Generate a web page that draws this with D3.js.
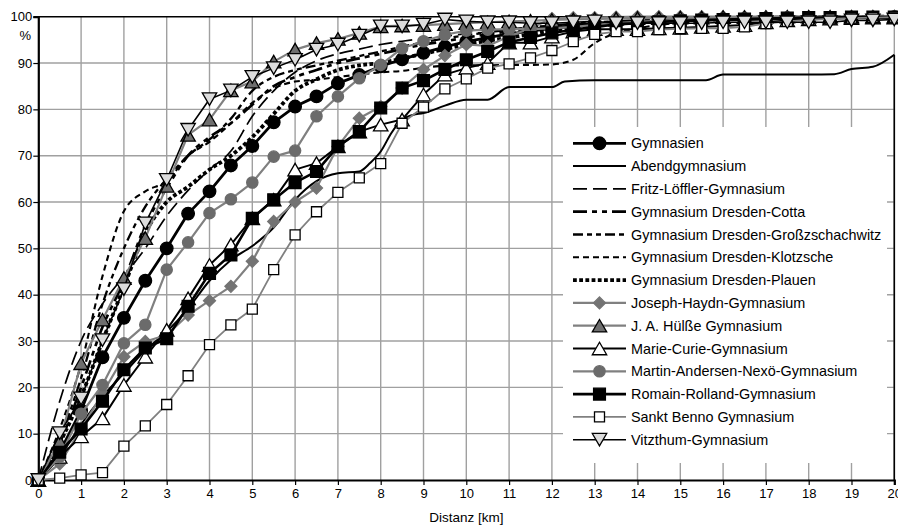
<!DOCTYPE html>
<html>
<head>
<meta charset="utf-8">
<script src="https://cdn.jsdelivr.net/npm/d3@7/dist/d3.min.js"></script>
<style>
  html, body { margin: 0; padding: 0; background: #fff; }
  svg { display: block; font-family: "Liberation Sans", Arial, sans-serif; }
</style>
</head>
<body>
<svg id="chart" width="898" height="527"></svg>
<script>
// Cumulative share of pupils (%) by travel distance (km)
const distances = [0,0.5,1,1.5,2,2.5,3,3.5,4,4.5,
  5,5.5,6,6.5,7,7.5,8,8.5,9,9.5,
  10,10.5,11,11.5,12,12.5,13,13.5,14,14.5,
  15,15.5,16,16.5,17,17.5,18,18.5,19,19.5,
  20];

const xTicks = [0,1,2,3,4,5,6,7,8,9,10,11,12,13,14,15,16,17,18,19,20];
const yTicks = [0,10,20,30,40,50,60,70,80,90,100];

const gymnasien = [0,6,15,26.5,35,43,50,57.5,62.3,67.9,
  72.1,77.2,80.6,82.8,85.6,87.4,89.3,90.8,92.2,93.5,
  94.6,95.5,96.3,96.9,97.5,97.9,98.3,98.6,98.8,99,
  99.1,99.2,99.3,99.4,99.5,99.6,99.6,99.7,99.8,99.8,
  99.9];

// Abendgymnasium is sampled more finely (smoothed line, no markers)
const abendKm = [0,0.5,1,1.5,2,2.5,3,3.5,4,4.5,5,5.5,6,6.5,7,7.5,7.75,8,8.25,8.5,8.75,9,9.5,10,10.5,11,11.25,12,12.3,13,14,15,15.6,16,17,18,18.6,19,19.5,20];
const abendPct = [0,5,12,18,23,28,32,37,43,47.5,50.5,54.5,60.5,64.5,66.2,66.6,68.4,70.9,74.9,77.8,78.8,79.2,80.8,82.1,82.1,84.8,84.8,84.8,86,86.3,86.3,86.3,86.3,87.5,87.5,87.5,87.6,88.7,89.2,91.8];

const fritzLoeffler = [0,17,30,38,44,50,57,62.5,67,71,
  78.5,84,88,90.5,92,93,94,94.7,95.3,95.8,
  96.3,96.7,97.2,97.5,97.8,98.1,98.4,98.6,98.8,99,
  99.1,99.2,99.3,99.4,99.5,99.6,99.7,99.7,99.8,99.8,
  99.8];

const cotta = [0,8,20,33,43,55,63,70,74,77,
  81,85,87,88.5,90,91,92,93,94,94.7,
  95.5,96.2,96.8,97.3,97.8,98.2,98.6,98.9,99.1,99.3,
  99.4,99.5,99.6,99.6,99.7,99.7,99.8,99.8,99.9,99.9,
  99.9];

const grosszschachwitz = [0,9,22,38,50,59,65,70,73.5,78,
  84,87,88.5,89.5,90.5,91.5,92.5,93.5,94.5,95.3,
  96,96.6,97.2,97.7,98.1,98.5,98.8,99,99.2,99.3,
  99.4,99.5,99.6,99.7,99.7,99.8,99.8,99.9,99.9,99.9,
  99.9];

const klotzsche = [0,11,25,44,58,62.3,64.5,70,73,77,
  81.4,84.5,86,86.4,87,87.5,88,88.3,89,89.4,
  89.5,89.5,89.6,89.6,89.7,90.7,94.3,96.5,97.5,98.2,
  98.7,99,99.3,99.5,99.6,99.7,99.8,99.8,99.9,99.9,
  99.9];

const plauen = [0,8,18,30,41.7,53.3,60,63.3,67,70,
  74,79,84,86.5,88.5,89.5,90,91,92,93,
  94,94.8,95.5,96.2,97,97.5,98,98.4,98.8,99.1,
  99.3,99.5,99.6,99.7,99.8,99.8,99.9,99.9,99.9,100,
  100];

const josephHaydn = [0,3.5,11,18.7,26.6,29.9,31.3,35.6,38.7,41.8,
  47.2,55.8,60,63,72,78.1,80.6,84.6,88.6,91.6,
  94,93.7,95.8,97.5,99.6,99.8,99.8,99.9,100,100,
  100,100,100,100,100,100,100,100,100,100,
  100];

const huelsse = [0,8.3,25.2,34.6,43.6,52.2,63.5,74.5,77.8,84.1,
  86,90.3,92.9,94.3,95.2,96.5,97.9,98.1,98.2,98.4,
  98.6,98.8,99,99.1,99.3,99.4,99.5,99.6,99.7,99.7,
  99.8,99.8,99.9,99.9,99.9,100,100,100,100,100,
  100];

const marieCurie = [0,5,9.4,13.3,20.5,26.6,32.4,39.2,46.4,50.8,
  56.5,60.5,67,68.4,72,75.2,76.7,77.8,83.2,87.5,
  88.9,90,94.4,94.4,95.7,96.8,97.3,97.3,97.3,97.5,
  97.6,97.8,98,98.2,98.8,99.2,99.4,99.6,99.7,99.8,
  99.8];

const martinAndersenNexoe = [0,5,14.3,20.5,29.5,33.5,45.4,51.3,57.6,60.6,
  64.2,69.8,71.1,78.5,82.8,86.7,89.6,93.2,94.7,96.1,
  97,97.2,97.3,97.3,97.5,97.8,98.2,98.6,98.9,99.1,
  99.3,99.4,99.5,99.6,99.7,99.8,99.8,99.9,99.9,100,
  100];

const romainRolland = [0,6,11,17,23.8,28.5,30.5,37.5,44.6,48.6,
  56.5,60.5,64.2,66.6,72,75.2,80.3,84.6,86.2,88.6,
  90.7,92.5,94.5,95.5,96.5,97.2,97.8,98.3,98.6,98.9,
  99.1,99.3,99.4,99.5,99.6,99.7,99.8,99.8,99.9,99.9,
  99.9];

const sanktBenno = [0,0.4,1.1,1.6,7.3,11.7,16.3,22.5,29.2,33.5,
  36.9,45.4,52.9,57.9,62.1,65.2,68.3,77,80.5,84.4,
  86.6,88.9,89.8,91.1,92.7,94.6,96.2,96.8,96.8,97.2,
  97.4,97.5,97.5,97.8,98.5,99,99.3,99.5,99.7,99.8,
  99.9];

const vitzthum = [0,10.1,17.6,30.2,41.2,55.4,64.8,75.6,82.2,84.1,
  87,88.9,90.7,92.9,94,95.9,97.9,97.9,98.3,99.4,
  99,98.8,98.8,98.6,98.6,98.8,99,98.6,98.6,98.6,
  98.6,98.6,98.8,98.8,98.8,98.8,98.8,98.8,99.2,99.2,
  99.4];

// Series definitions (drawing order = legend order)
const series = [
  { name: "Gymnasien", xs: distances, ys: gymnasien, stroke: "#000", width: 2.8, marker: "circle", mSize: 125, mFill: "#000", mStroke: "#000" },
  { name: "Abendgymnasium", xs: abendKm, ys: abendPct, stroke: "#000", width: 2, smooth: true },
  { name: "Fritz-Löffler-Gymnasium", xs: distances, ys: fritzLoeffler, stroke: "#000", width: 1.7, dash: "14,6", smooth: true },
  { name: "Gymnasium Dresden-Cotta", xs: distances, ys: cotta, stroke: "#000", width: 2.7, dash: "14,5,5,5,5,5", smooth: true },
  { name: "Gymnasium Dresden-Großzschachwitz", xs: distances, ys: grosszschachwitz, stroke: "#000", width: 2.3, dash: "10,4,5,4,5,4", smooth: true },
  { name: "Gymnasium Dresden-Klotzsche", xs: distances, ys: klotzsche, stroke: "#000", width: 2.1, dash: "6,4", smooth: true },
  { name: "Gymnasium Dresden-Plauen", xs: distances, ys: plauen, stroke: "#000", width: 3.8, dash: "3.8,2.4", smooth: true },
  { name: "Joseph-Haydn-Gymnasium", xs: distances, ys: josephHaydn, stroke: "#808080", width: 2.2, marker: "diamond", mSize: 72, mFill: "#737373", mStroke: "#737373" },
  { name: "J. A. Hülße Gymnasium", xs: distances, ys: huelsse, stroke: "#808080", width: 2.2, marker: "triangle", mSize: 90, mFill: "#6e6e6e", mStroke: "#000" },
  { name: "Marie-Curie-Gymnasium", xs: distances, ys: marieCurie, stroke: "#000", width: 2, marker: "triangle", mSize: 90, mFill: "#fff", mStroke: "#000" },
  { name: "Martin-Andersen-Nexö-Gymnasium", xs: distances, ys: martinAndersenNexoe, stroke: "#808080", width: 2.2, marker: "circle", mSize: 100, mFill: "#6b6b6b", mStroke: "#6b6b6b" },
  { name: "Romain-Rolland-Gymnasium", xs: distances, ys: romainRolland, stroke: "#000", width: 2.6, marker: "square", mSize: 140, mFill: "#000", mStroke: "#000" },
  { name: "Sankt Benno Gymnasium", xs: distances, ys: sanktBenno, stroke: "#808080", width: 1.8, marker: "square", mSize: 100, mFill: "#fff", mStroke: "#000" },
  { name: "Vitzthum-Gymnasium", xs: distances, ys: vitzthum, stroke: "#000", width: 1.6, marker: "triangleDown", mSize: 90, mFill: "#dcdcdc", mStroke: "#000" }
];

const svg = d3.select("#chart");
const plot = { left: 38.3, right: 894.3, top: 16.7, bottom: 480 };

const x = d3.scaleLinear().domain([0, 20]).range([plot.left, plot.right]);
const y = d3.scaleLinear().domain([0, 100]).range([plot.bottom, plot.top]);

// Grid
const grid = svg.append("g");
grid.selectAll("line.v").data(xTicks.filter(d => d > 0)).enter().append("line")
  .attr("x1", d => x(d)).attr("x2", d => x(d))
  .attr("y1", y(0)).attr("y2", y(100))
  .attr("stroke", "#a0a0a0").attr("stroke-width", 1.4);
grid.selectAll("line.h").data(yTicks.filter(d => d > 0 && d < 100)).enter().append("line")
  .attr("x1", x(0)).attr("x2", x(20))
  .attr("y1", d => y(d)).attr("y2", d => y(d))
  .attr("stroke", "#a0a0a0").attr("stroke-width", 1.4);

// Frame: top and right edge
svg.append("line").attr("x1", x(0)).attr("x2", x(20)).attr("y1", y(100)).attr("y2", y(100))
  .attr("stroke", "#000").attr("stroke-width", 1.6);
svg.append("line").attr("x1", x(20)).attr("x2", x(20)).attr("y1", y(0)).attr("y2", y(abendPct[abendPct.length - 1]))
  .attr("stroke", "#000").attr("stroke-width", 1.6);

// Axes
const xAxis = d3.axisBottom(x).tickValues(xTicks).tickSize(5).tickPadding(4).tickFormat(d3.format("d"));
const yAxis = d3.axisLeft(y).tickValues(yTicks).tickSize(5).tickPadding(1).tickFormat(d3.format("d"));

const gx = svg.append("g").attr("transform", `translate(0,${plot.bottom})`).call(xAxis);
const gy = svg.append("g").attr("transform", `translate(${plot.left},0)`).call(yAxis);
[gx, gy].forEach(g => {
  g.select(".domain").attr("stroke", "#000").attr("stroke-width", 2.2);
  g.selectAll(".tick line").attr("stroke", "#000").attr("stroke-width", 1.2);
  g.selectAll(".tick text").attr("fill", "#000").style("font-size", "13px")
    .style("font-family", '"Liberation Sans", Arial, sans-serif');
});

svg.append("text").attr("x", 31).attr("y", 40).attr("text-anchor", "end")
  .style("font-size", "13px").text("%");

svg.append("text").attr("x", (plot.left + plot.right) / 2).attr("y", 522).attr("text-anchor", "middle")
  .style("font-size", "13.5px").text("Distanz [km]");

// Marker path generator
function markerPath(type, size) {
  if (type === "circle") return d3.symbol(d3.symbolCircle, size)();
  if (type === "square") return d3.symbol(d3.symbolSquare, size)();
  if (type === "diamond") {
    const h = Math.sqrt(size * 2) / 2;
    return `M0,${-h}L${h},0L0,${h}L${-h},0Z`;
  }
  if (type === "triangle" || type === "triangleDown") {
    const side = Math.sqrt(size * 4 / Math.sqrt(3));
    const hh = side * Math.sqrt(3) / 2;
    const sgn = type === "triangle" ? 1 : -1;
    return `M0,${-sgn * hh / 2}L${side / 2},${sgn * hh / 2}L${-side / 2},${sgn * hh / 2}Z`;
  }
  return null;
}

// Series lines and markers
const linear = d3.line().x(d => x(d[0])).y(d => y(d[1]));
const smooth = d3.line().x(d => x(d[0])).y(d => y(d[1])).curve(d3.curveMonotoneX);

series.forEach(s => {
  const pts = s.xs.map((v, i) => [v, s.ys[i]]);
  const g = svg.append("g");
  g.append("path").attr("d", (s.smooth ? smooth : linear)(pts))
    .attr("fill", "none").attr("stroke", s.stroke).attr("stroke-width", s.width)
    .attr("stroke-dasharray", s.dash || null).attr("stroke-linejoin", "round");
  if (s.marker) {
    g.selectAll("path.m").data(pts).enter().append("path")
      .attr("d", markerPath(s.marker, s.mSize))
      .attr("transform", d => `translate(${x(d[0])},${y(d[1])})`)
      .attr("fill", s.mFill).attr("stroke", s.mStroke).attr("stroke-width", 1.3);
  }
});

// Legend
const leg = svg.append("g");
leg.append("rect").attr("x", 563).attr("y", 127).attr("width", 324).attr("height", 336).attr("fill", "#fff");
const legY0 = 143.3, legStep = 22.8;
series.forEach((s, i) => {
  const cy = legY0 + i * legStep;
  const row = leg.append("g");
  row.append("line").attr("x1", 573).attr("x2", 626).attr("y1", cy).attr("y2", cy)
    .attr("stroke", s.stroke).attr("stroke-width", s.width)
    .attr("stroke-dasharray", s.dash || null);
  if (s.marker) {
    row.append("path").attr("d", markerPath(s.marker, s.mSize))
      .attr("transform", `translate(599.5,${cy})`)
      .attr("fill", s.mFill).attr("stroke", s.mStroke).attr("stroke-width", 1.3);
  }
  row.append("text").attr("x", 631).attr("y", cy + 5)
    .style("font-size", "14.4px").attr("fill", "#000").text(s.name);
});
</script>
</body>
</html>
